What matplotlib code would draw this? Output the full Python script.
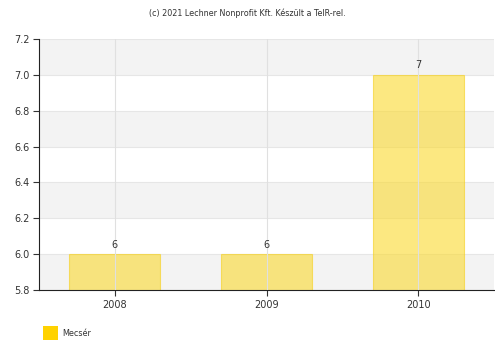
import matplotlib.pyplot as plt
from matplotlib.patches import Patch

evek = ['2008', '2009', '2010']
ertekek = [6, 6, 7]
sorozat = 'Mecsér'
y_ticks = [5.8, 6.0, 6.2, 6.4, 6.6, 6.8, 7.0, 7.2]

fig = plt.figure(figsize=(4.95, 3.43), dpi=100)
ax = fig.add_axes([39 / 495, 1 - 290 / 343, 455 / 495, 251 / 343])

x = list(range(len(evek)))
ax.set_xlim(-0.5, len(evek) - 0.5)

# szurke savok
for i in range(0, len(y_ticks) - 1, 2):
    ax.axhspan(y_ticks[i], y_ticks[i + 1], color='#f3f3f3', zorder=0, lw=0)
for t in y_ticks:
    ax.axhline(t, color='#e6e6e6', lw=0.8, zorder=0.5)
for xi in x:
    ax.axvline(xi, color='#e0e0e0', lw=0.8, zorder=3)

ax.bar(x, ertekek, width=0.6, color='#fbd92e', alpha=0.6, edgecolor='#f5cf1a',
       linewidth=0.8, zorder=2)
ax.set_ylim(5.8, 7.2)

for xi, v in zip(x, ertekek):
    ax.text(xi, v + 0.025, str(v), ha='center', va='bottom', fontsize=7, color='#333333', zorder=4)

ax.set_xticks(x)
ax.set_xticklabels(evek, fontsize=7, color='#333333')
ax.set_yticks(y_ticks)
ax.set_yticklabels([f'{t:.1f}' for t in y_ticks], fontsize=7, color='#333333')
ax.tick_params(axis='both', length=4, width=0.8, color='#333333', pad=3)

for s in ['top', 'right']:
    ax.spines[s].set_visible(False)
ax.spines['left'].set_color('#222222')
ax.spines['bottom'].set_color('#222222')

fig.text(0.5, 1 - 13 / 343, '(c) 2021 Lechner Nonprofit Kft. Készült a TeIR-rel.',
         ha='center', va='center', fontsize=5.8, color='#333333')

# jelmagyarazat: nagyobb negyzet
fig.patches.append(plt.Rectangle((43 / 495, 1 - 340 / 343), 15 / 495, 14 / 343,
                                 transform=fig.transFigure, facecolor='#ffd200',
                                 edgecolor='none', label=sorozat))
fig.text(62 / 495, 1 - 333 / 343, sorozat, ha='left', va='center', fontsize=5.8, color='#333333')

fig.savefig('out.png', dpi=100)
